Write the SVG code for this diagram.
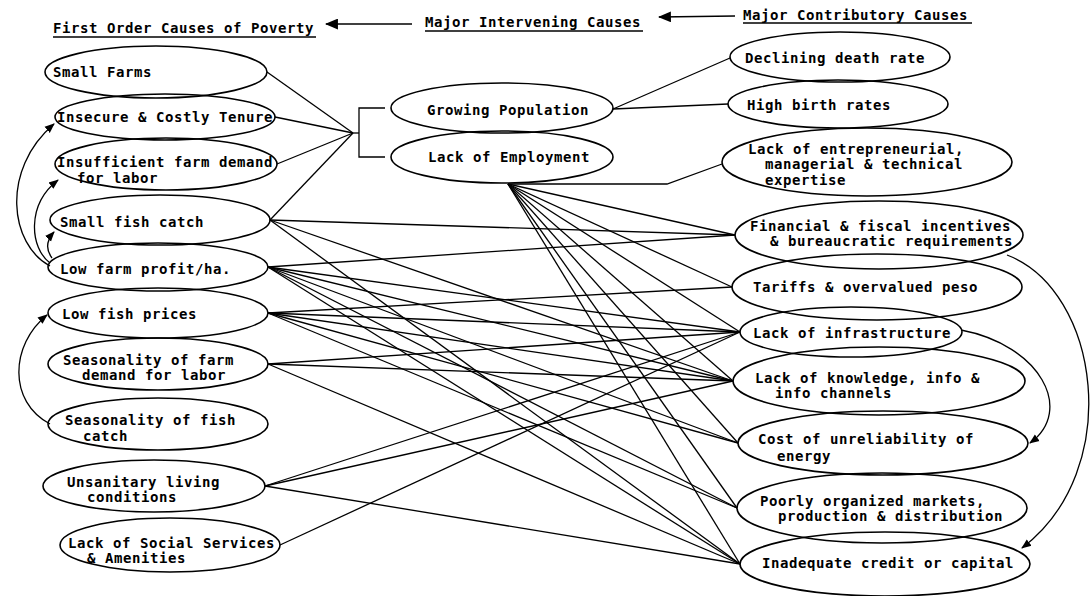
<svg xmlns="http://www.w3.org/2000/svg" width="1091" height="596" viewBox="0 0 1091 596">
<style>
text{font-family:"DejaVu Sans Mono","Liberation Mono",monospace;font-size:14px;letter-spacing:0.57px;font-weight:bold;fill:#000}
.n ellipse{fill:none;stroke:#000;stroke-width:1.6}
.c line,.c path,.c polyline{fill:none;stroke:#000;stroke-width:1.3}
.u{stroke:#000;stroke-width:1.5}
</style>
<defs>
<marker id="ah" viewBox="0 0 10 10" refX="9" refY="5" markerWidth="10" markerHeight="10" markerUnits="userSpaceOnUse" orient="auto">
<path d="M0,1 L10,5 L0,9 Z" fill="#000"/>
</marker>
<marker id="hh" viewBox="0 0 12 10" refX="11" refY="5" markerWidth="13" markerHeight="11" markerUnits="userSpaceOnUse" orient="auto">
<path d="M0,0 L12,5 L0,10 Z" fill="#000"/>
</marker>
</defs>

<g id="headers">
<text x="53" y="33">First Order Causes of Poverty</text>
<line class="u" x1="53" y1="37" x2="316" y2="37"/>
<text x="425" y="27">Major Intervening Causes</text>
<line class="u" x1="425" y1="31" x2="643" y2="31"/>
<text x="743" y="20">Major Contributory Causes</text>
<line class="u" x1="743" y1="23" x2="972" y2="23"/>
</g>

<g class="c" id="connectors">
<line x1="412" y1="24" x2="326" y2="24" marker-end="url(#hh)"/>
<line x1="735" y1="16" x2="659" y2="17" marker-end="url(#hh)"/>
<line x1="267" y1="72" x2="353" y2="133"/>
<line x1="275" y1="117" x2="353" y2="133"/>
<line x1="277" y1="164" x2="353" y2="133"/>
<line x1="270" y1="220" x2="353" y2="133"/>
<line x1="353" y1="133" x2="359" y2="133"/>
<polyline points="385,108 359,108 359,157 385,157"/>
<line x1="613" y1="109" x2="730" y2="58"/>
<line x1="613" y1="109" x2="728" y2="104"/>
<polyline points="508,184 667,184 722,164"/>
<line x1="508" y1="184" x2="735" y2="235"/>
<line x1="508" y1="184" x2="732" y2="287"/>
<line x1="508" y1="184" x2="740" y2="332"/>
<line x1="508" y1="184" x2="733" y2="381"/>
<line x1="508" y1="184" x2="738" y2="443"/>
<line x1="508" y1="184" x2="737" y2="508"/>
<line x1="508" y1="184" x2="740" y2="564"/>
<line x1="270" y1="220" x2="735" y2="235"/>
<line x1="270" y1="220" x2="733" y2="381"/>
<line x1="270" y1="220" x2="740" y2="564"/>
<line x1="268" y1="267" x2="735" y2="235"/>
<line x1="268" y1="267" x2="740" y2="332"/>
<line x1="268" y1="267" x2="733" y2="381"/>
<line x1="268" y1="267" x2="738" y2="443"/>
<line x1="268" y1="267" x2="737" y2="508"/>
<line x1="268" y1="267" x2="740" y2="564"/>
<line x1="268" y1="313" x2="732" y2="287"/>
<line x1="268" y1="313" x2="740" y2="332"/>
<line x1="268" y1="313" x2="733" y2="381"/>
<line x1="268" y1="313" x2="738" y2="443"/>
<line x1="268" y1="313" x2="737" y2="508"/>
<line x1="268" y1="364" x2="740" y2="332"/>
<line x1="268" y1="364" x2="733" y2="381"/>
<line x1="268" y1="364" x2="740" y2="564"/>
<line x1="265" y1="486" x2="740" y2="332"/>
<line x1="265" y1="486" x2="733" y2="381"/>
<line x1="265" y1="486" x2="740" y2="564"/>
<line x1="280" y1="545" x2="740" y2="332"/>
<path d="M50,266 C10,245 0,170 54,124" marker-end="url(#ah)"/>
<path d="M50,263 C30,248 26,205 58,180" marker-end="url(#ah)"/>
<path d="M52,258 C46,250 46,241 54,232" marker-end="url(#ah)"/>
<path d="M50,424 C8,402 10,345 47,315" marker-end="url(#ah)"/>
<path d="M961,330 C1040,345 1075,410 1030,443" marker-end="url(#ah)"/>
<path d="M1007,255 C1100,290 1125,470 1022,548" marker-end="url(#ah)"/>
</g>

<g class="n" id="small-farms"><ellipse cx="156" cy="72" rx="111" ry="26"/><text x="53" y="77">Small Farms</text></g>
<g class="n" id="insecure-tenure"><ellipse cx="165" cy="117" rx="110" ry="23"/><text x="57" y="122">Insecure &amp; Costly Tenure</text></g>
<g class="n" id="insufficient-demand"><ellipse cx="166" cy="164" rx="111" ry="26"/><text x="57" y="167">Insufficient farm demand</text><text x="77" y="183">for labor</text></g>
<g class="n" id="small-fish-catch"><ellipse cx="160" cy="220" rx="110" ry="25"/><text x="60" y="227">Small fish catch</text></g>
<g class="n" id="low-farm-profit"><ellipse cx="158" cy="267" rx="110" ry="24"/><text x="60" y="274">Low farm profit/ha.</text></g>
<g class="n" id="low-fish-prices"><ellipse cx="158" cy="313" rx="110" ry="25"/><text x="62" y="319">Low fish prices</text></g>
<g class="n" id="seasonality-farm"><ellipse cx="158" cy="364" rx="110" ry="26"/><text x="63" y="365">Seasonality of farm</text><text x="82" y="380">demand for labor</text></g>
<g class="n" id="seasonality-fish"><ellipse cx="158" cy="424" rx="110" ry="26"/><text x="65" y="425">Seasonality of fish</text><text x="83" y="441">catch</text></g>
<g class="n" id="unsanitary"><ellipse cx="154" cy="486" rx="111" ry="26"/><text x="67" y="487">Unsanitary living</text><text x="87" y="502">conditions</text></g>
<g class="n" id="social-services"><ellipse cx="170" cy="545" rx="110" ry="27"/><text x="68" y="548">Lack of Social Services</text><text x="87" y="563">&amp; Amenities</text></g>

<g class="n" id="growing-population"><ellipse cx="502" cy="108" rx="111" ry="25"/><text x="427" y="115">Growing Population</text></g>
<g class="n" id="lack-employment"><ellipse cx="502" cy="157" rx="111" ry="26"/><text x="428" y="162">Lack of Employment</text></g>

<g class="n" id="declining-death"><ellipse cx="840" cy="57" rx="110" ry="25"/><text x="745" y="63">Declining death rate</text></g>
<g class="n" id="high-birth"><ellipse cx="838" cy="104" rx="110" ry="24"/><text x="747" y="110">High birth rates</text></g>
<g class="n" id="entrepreneurial"><ellipse cx="867" cy="162" rx="145" ry="34"/><text x="748" y="154">Lack of entrepreneurial,</text><text x="765" y="169">managerial &amp; technical</text><text x="765" y="185">expertise</text></g>
<g class="n" id="financial"><ellipse cx="879" cy="235" rx="144" ry="34"/><text x="750" y="231">Financial &amp; fiscal incentives</text><text x="770" y="246">&amp; bureaucratic requirements</text></g>
<g class="n" id="tariffs"><ellipse cx="877" cy="287" rx="145" ry="33"/><text x="753" y="292">Tariffs &amp; overvalued peso</text></g>
<g class="n" id="infrastructure"><ellipse cx="851" cy="332" rx="111" ry="25"/><text x="753" y="338">Lack of infrastructure</text></g>
<g class="n" id="knowledge"><ellipse cx="879" cy="381" rx="146" ry="34"/><text x="755" y="383">Lack of knowledge, info &amp;</text><text x="775" y="398">info channels</text></g>
<g class="n" id="energy"><ellipse cx="883" cy="443" rx="145" ry="32"/><text x="758" y="444">Cost of unreliability of</text><text x="777" y="461">energy</text></g>
<g class="n" id="markets"><ellipse cx="882" cy="508" rx="145" ry="35"/><text x="760" y="506">Poorly organized markets,</text><text x="778" y="521">production &amp; distribution</text></g>
<g class="n" id="credit"><ellipse cx="885" cy="564" rx="145" ry="32"/><text x="762" y="568">Inadequate credit or capital</text></g>
</svg>
